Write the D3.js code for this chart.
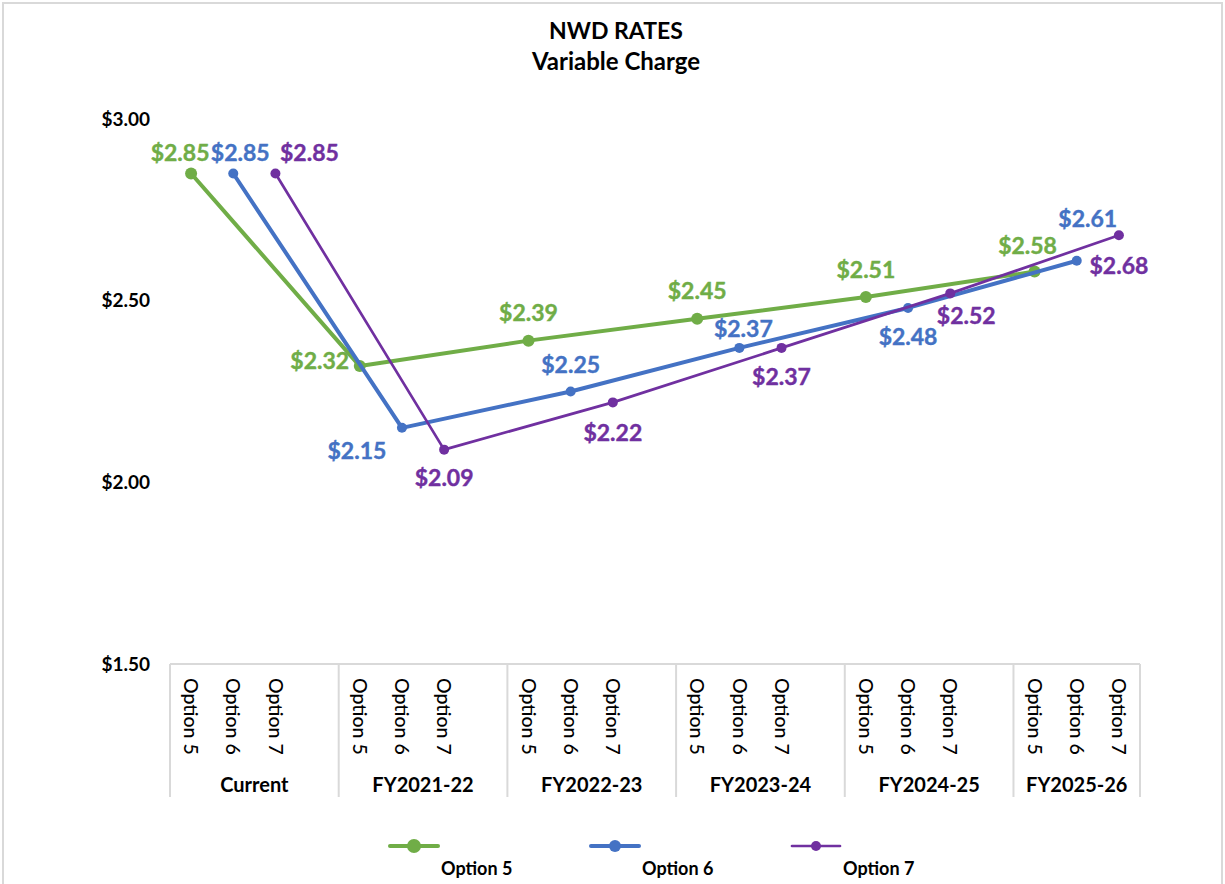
<!DOCTYPE html>
<html>
<head>
<meta charset="utf-8">
<script src="https://cdn.jsdelivr.net/npm/d3@7"></script>
<style>
  html, body { margin: 0; padding: 0; background: #fff; }
  svg { display: block; font-family: Lato, "Open Sans", sans-serif; }
</style>
</head>
<body>
<svg id="chart" width="1225" height="884"></svg>
<script>
// chart data
const groups = ["Current", "FY2021-22", "FY2022-23", "FY2023-24", "FY2024-25", "FY2025-26"];
const options = ["Option 5", "Option 6", "Option 7"];
const option5 = [2.85, 2.32, 2.39, 2.45, 2.51, 2.58];
const option6 = [2.85, 2.15, 2.25, 2.37, 2.48, 2.61];
const option7 = [2.85, 2.09, 2.22, 2.37, 2.52, 2.68];
const yTicks = [1.5, 2.0, 2.5, 3.0];

// where each data label sits relative to its point (dx, dy)
const labelOffsets = [
    [[-11, -21], [-40, -5], [0, -28], [0, -28], [0, -27], [-7, -26]],
    [[7, -21], [-45, 23], [0, -27], [4, -19], [0, 29], [11, -42]],
    [[34, -21], [0, 28], [0, 31], [0, 29], [16, 23], [0, 31]]
];

const series = [
    { name: "Option 5", values: option5, color: "#70AD47", width: 4, r: 6, legendR: 7 },
    { name: "Option 6", values: option6, color: "#4472C4", width: 4, r: 5, legendR: 6 },
    { name: "Option 7", values: option7, color: "#7030A0", width: 2.7, r: 5, legendR: 5 }
];

const svg = d3.select("#chart");

// outer frame
svg.append("rect")
    .attr("x", 3).attr("y", 3)
    .attr("width", 1219).attr("height", 890)
    .attr("fill", "none")
    .attr("stroke", "#d9d9d9")
    .attr("stroke-width", 2);

// title
svg.append("text")
    .attr("x", 616).attr("y", 39)
    .attr("text-anchor", "middle")
    .attr("font-size", "23px")
    .attr("font-weight", "bold")
    .attr("fill", "#000")
    .text("NWD RATES");
svg.append("text")
    .attr("x", 616).attr("y", 70)
    .attr("text-anchor", "middle")
    .attr("font-size", "24px")
    .attr("font-weight", "bold")
    .attr("fill", "#000")
    .text("Variable Charge");

// slots: every group gets its three options and a blank spacer (not the last one)
const slots = [];
groups.forEach((g, gi) => {
    options.forEach((o, oi) => slots.push(gi + "|" + oi));
    if (gi < groups.length - 1) slots.push(gi + "|gap");
});

const plotLeft = 170, plotRight = 1140, plotTop = 119, plotBottom = 664;

const x = d3.scaleBand()
    .domain(slots)
    .range([plotLeft, plotRight])
    .padding(0);

const y = d3.scaleLinear()
    .domain([1.5, 3.0])
    .range([plotBottom, plotTop]);

const cx = (gi, oi) => x(gi + "|" + oi) + x.bandwidth() / 2;
const money = d3.format("$.2f");

// y axis labels (no line, no gridlines)
svg.append("g")
    .selectAll("text")
    .data(yTicks)
    .enter().append("text")
    .attr("x", 150)
    .attr("y", d => y(d))
    .attr("dy", "0.35em")
    .attr("text-anchor", "end")
    .attr("font-size", "19px")
    .attr("font-weight", "bold")
    .attr("fill", "#000")
    .text(d => money(d));

// category axis
const axisG = svg.append("g");
axisG.append("line")
    .attr("x1", plotLeft).attr("x2", plotRight)
    .attr("y1", plotBottom).attr("y2", plotBottom)
    .attr("stroke", "#d9d9d9")
    .attr("stroke-width", 2);

const groupEdges = groups.map((g, gi) => x(gi + "|0"));
groupEdges.push(plotRight);
axisG.selectAll("line.div")
    .data(groupEdges)
    .enter().append("line")
    .attr("class", "div")
    .attr("x1", d => d).attr("x2", d => d)
    .attr("y1", plotBottom).attr("y2", 797)
    .attr("stroke", "#d9d9d9")
    .attr("stroke-width", 2);

groups.forEach((g, gi) => {
    options.forEach((o, oi) => {
        const px = cx(gi, oi);
        axisG.append("text")
            .attr("transform", `translate(${px},${plotBottom + 14}) rotate(90)`)
            .attr("dy", "0.35em")
            .attr("font-size", "19.5px")
            .attr("font-weight", 500)
            .attr("fill", "#000")
            .text(o);
    });
    const mid = (groupEdges[gi] + groupEdges[gi + 1]) / 2;
    axisG.append("text")
        .attr("x", mid)
        .attr("y", 792)
        .attr("text-anchor", "middle")
        .attr("font-size", "20px")
        .attr("font-weight", "bold")
        .attr("fill", "#000")
        .text(g);
});

// lines and markers
series.forEach((s, si) => {
    const pts = s.values.map((v, gi) => ({ gi: gi, v: v }));
    const line = d3.line()
        .x(d => cx(d.gi, si))
        .y(d => y(d.v));

    const g = svg.append("g");
    g.append("path")
        .datum(pts)
        .attr("d", line)
        .attr("fill", "none")
        .attr("stroke", s.color)
        .attr("stroke-width", s.width)
        .attr("stroke-linejoin", "round");

    g.selectAll("circle")
        .data(pts)
        .enter().append("circle")
        .attr("cx", d => cx(d.gi, si))
        .attr("cy", d => y(d.v))
        .attr("r", s.r)
        .attr("fill", s.color);
});

// data labels on top
series.forEach((s, si) => {
    svg.append("g")
        .selectAll("text")
        .data(s.values)
        .enter().append("text")
        .attr("x", (d, gi) => cx(gi, si) + labelOffsets[si][gi][0])
        .attr("y", (d, gi) => y(d) + labelOffsets[si][gi][1])
        .attr("dy", "0.35em")
        .attr("text-anchor", "middle")
        .attr("font-size", "23px")
        .attr("font-weight", "bold")
        .attr("fill", s.color)
        .attr("stroke", s.color)
        .attr("stroke-width", 0.4)
        .text(d => money(d));
});

// legend
const legendX = [390, 591, 792];
const legend = svg.append("g");
series.forEach((s, i) => {
    const lx = legendX[i];
    legend.append("line")
        .attr("x1", lx).attr("x2", lx + 48)
        .attr("y1", 846).attr("y2", 846)
        .attr("stroke", s.color)
        .attr("stroke-width", s.width)
        .attr("stroke-linecap", "round");
    legend.append("circle")
        .attr("cx", lx + 24).attr("cy", 846)
        .attr("r", s.legendR)
        .attr("fill", s.color);
    legend.append("text")
        .attr("x", lx + 51).attr("y", 869)
        .attr("dy", "0.35em")
        .attr("font-size", "18px")
        .attr("font-weight", "bold")
        .attr("fill", "#000")
        .text(s.name);
});
</script>
</body>
</html>
